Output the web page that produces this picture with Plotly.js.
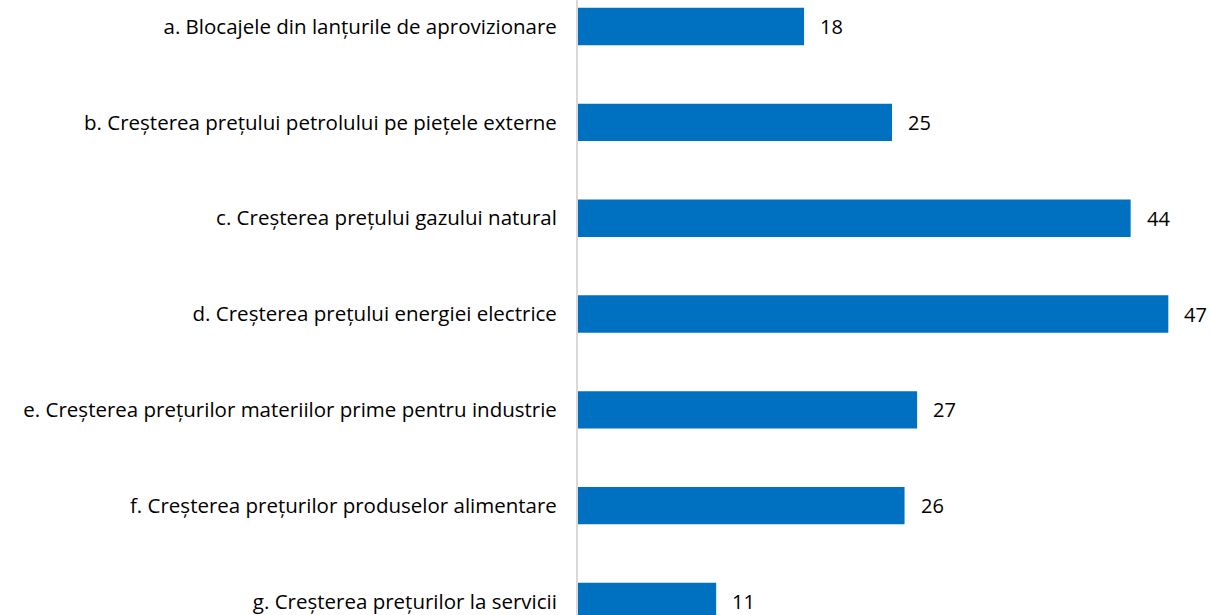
<!DOCTYPE html>
<html>
<head>
<meta charset="utf-8">
<script src="https://cdn.plot.ly/plotly-3.0.1.min.js"></script>
<style>html,body{margin:0;padding:0;background:#fff;}#chart{width:1211px;height:615px;}</style>
</head>
<body>
<div id="chart"></div>
<script>
const categories = [
  "a. Blocajele din lanțurile de aprovizionare",
  "b. Creșterea prețului petrolului pe piețele externe",
  "c. Creșterea prețului gazului natural",
  "d. Creșterea prețului energiei electrice",
  "e. Creșterea prețurilor materiilor prime pentru industrie",
  "f. Creșterea prețurilor produselor alimentare",
  "g. Creșterea prețurilor la servicii"
];
const values = [18, 25, 44, 47, 27, 26, 11];

const FONT = "'Open Sans', 'Liberation Sans', sans-serif";

const trace = {
  type: "bar",
  orientation: "h",
  x: values,
  y: categories,
  width: 0.39,
  marker: {color: "#0070C0"},
  hoverinfo: "none"
};

const annotations = values.map((v, i) => ({
  x: v, y: categories[i], xref: "x", yref: "y",
  text: String(v), showarrow: false, xanchor: "left", yanchor: "middle",
  xshift: 14, font: {family: FONT, size: 20, color: "#000"}
}));

const layout = {
  width: 1211, height: 615,
  margin: {l: 578, r: 5, t: 0, b: 0, pad: 0},
  paper_bgcolor: "#fff", plot_bgcolor: "#fff",
  showlegend: false,
  xaxis: {range: [0, 50], visible: false, showgrid: false, zeroline: false},
  yaxis: {
    type: "category",
    range: [6.141, -0.277],
    showline: true, linecolor: "#d9d9d9", linewidth: 2,
    showgrid: false, zeroline: false, ticks: "",
    ticklabelstandoff: 15,
    tickfont: {family: FONT, size: 20.5, color: "#000"}
  },
  annotations: annotations
};

Plotly.newPlot("chart", [trace], layout, {staticPlot: true, displayModeBar: false});
</script>
</body>
</html>
